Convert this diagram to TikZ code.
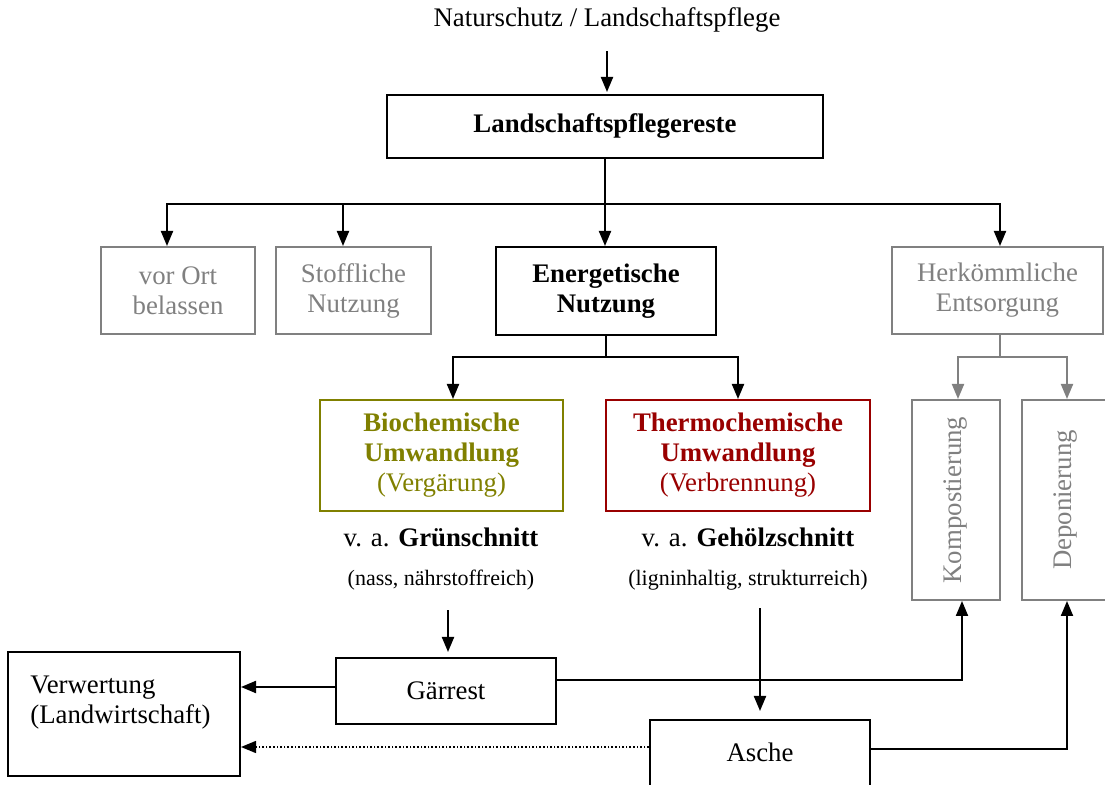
\documentclass[tikz,border=0pt]{standalone}
\usepackage{fontspec}
\setmainfont{Liberation Serif}
\usetikzlibrary{arrows.meta}
\definecolor{olivgruen}{RGB}{128,128,0}
\definecolor{dunkelrot}{RGB}{153,0,0}
\begin{document}
\begin{tikzpicture}[x=0.5pt, y=-0.5pt,
    font=\fontsize{13.4}{15}\selectfont,
    box_style/.style={draw, line width=1pt, inner sep=0pt, align=center},
    grau_style/.style={box_style, draw=gray, text=gray},
    klein_style/.style={font=\fontsize{11}{13}\selectfont},
    pfeil/.style={line width=1pt, -{Triangle[length=7.5pt, width=6pt]}},
    grau_pfeil/.style={pfeil, draw=gray, -{Triangle[length=7.5pt, width=6pt, fill=gray]}}
]
\useasboundingbox (0,0) rectangle (1105,785);
% Ausgangspunkt
\node (quelle) at (607,20) {Naturschutz / Landschaftspflege};
\node[box_style, minimum width=218pt, minimum height=31.5pt] (reste) at (605,126.5) {\textbf{Landschaftspflegereste}};
\draw[pfeil, shorten <=6pt, shorten >=1.5pt] (quelle.south -| 607,0) -- (607,95);
% Erste Ebene
\node[grau_style, minimum width=77pt, minimum height=43.5pt] (ort) at (178,290.5) {vor Ort\\belassen};
\node[grau_style, minimum width=77.5pt, minimum height=43.5pt] (stoff) at (353.5,290.5) {Stoffliche\\Nutzung};
\node[box_style, minimum width=110pt, minimum height=44pt] (energie) at (606,291) {\textbf{Energetische}\\\textbf{Nutzung}};
\node[grau_style, minimum width=105.5pt, minimum height=43.5pt] (herk) at (997.5,290.5) {Herkömmliche\\Entsorgung};
\coordinate (k1) at (605,204);
\draw[line width=1pt] (reste.south) -- (k1);
\draw[pfeil] (k1) -| ([xshift=-5.5pt]ort.north);
\draw[pfeil] (k1) -| ([xshift=-5.25pt]stoff.north);
\draw[pfeil] (k1) -- (k1 |- energie.north);
\draw[pfeil] (k1) -| ([xshift=1.25pt]herk.north);
% Energetische Nutzung
\node[box_style, draw=olivgruen, text=olivgruen, minimum width=121.5pt, minimum height=55.5pt] (bio) at (441.5,455.5)
    {\textbf{Biochemische}\\\textbf{Umwandlung}\\(Vergärung)};
\node[box_style, draw=dunkelrot, text=dunkelrot, minimum width=132pt, minimum height=55.5pt] (thermo) at (738,455.5)
    {\textbf{Thermochemische}\\\textbf{Umwandlung}\\(Verbrennung)};
\coordinate (k2) at (606,357);
\draw[line width=1pt] (energie.south) -- (k2);
\draw[pfeil] (k2) -| ([xshift=5.75pt]bio.north);
\draw[pfeil] (k2) -| (thermo.north);
\node (gruen) at (441,537) {v. a. \textbf{Grünschnitt}};
\node[klein_style] (gruen_info) at (441,580) {(nass, nährstoffreich)};
\node (gehoelz) at (748,537) {v. a. \textbf{Gehölzschnitt}};
\node[klein_style] (gehoelz_info) at (748,580) {(ligninhaltig, strukturreich)};
% Entsorgung
\node[grau_style, minimum width=44pt, minimum height=100pt] (kompost) at (956,500) {};
\node[rotate=90, text=gray] (kompost_text) at (kompost) {Kompostierung};
\node[grau_style, minimum width=44pt, minimum height=100pt] (depo) at (1066,500) {};
\node[rotate=90, text=gray] (depo_text) at (depo) {Deponierung};
\coordinate (k3) at (1000,357);
\draw[line width=1pt, gray] (herk.south -| k3) -- (k3);
\draw[grau_pfeil] (k3) -| ([xshift=1pt]kompost.north);
\draw[grau_pfeil] (k3) -| ([xshift=0.5pt]depo.north);
% Reststoffe
\node[box_style, minimum width=110pt, minimum height=33pt] (gaerrest) at (446,691) {Gärrest};
\node[box_style, minimum width=116pt, minimum height=62pt] (verwertung) at (124,714) {};
\node[anchor=west, align=left, inner sep=0pt] (verwertung_text) at (30,703) {Verwertung\\(Landwirtschaft)};
\node[box_style, minimum width=110pt, minimum height=35pt] (asche) at (760,755) {};
\node (asche_text) at (760,752) {Asche};
\draw[pfeil, shorten <=6.5pt, shorten >=3pt] (gruen_info.south -| 448,0) -- (448,658);
\draw[pfeil, shorten <=5.5pt, shorten >=4pt] (gehoelz_info.south -| asche.north) -- (asche.north);
\coordinate (g1) at ([yshift=2pt]gaerrest.west);
\draw[pfeil] (g1) -- (g1 -| verwertung.east);
\draw[pfeil] ([yshift=5.5pt]gaerrest.east) -| ([xshift=3pt]kompost.south);
\draw[pfeil] ([yshift=3pt]asche.east) -| ([xshift=0.5pt]depo.south);
\coordinate (a1) at ([yshift=4pt]asche.west);
\draw[pfeil, line width=0.7pt, dash pattern=on 0.8pt off 1pt] (a1) -- (a1 -| verwertung.east);
\end{tikzpicture}
\end{document}
